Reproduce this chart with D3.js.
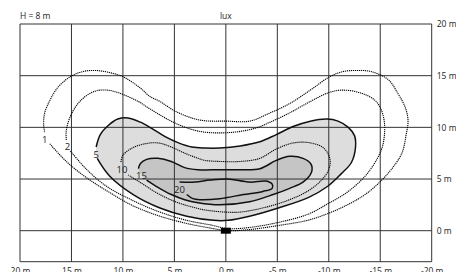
<!DOCTYPE html>
<html>
<head>
<meta charset="utf-8">
<script src="https://cdn.jsdelivr.net/npm/d3@7"></script>
<style>
    body { margin: 0; background: #fff; }
    text { font-family: "Open Sans", sans-serif; fill: #222; }
</style>
</head>
<body>
<div id="isolux"></div>
<script>
var xTicks = [20, 15, 10, 5, 0, -5, -10, -15, -20];
var yTicks = [20, 15, 10, 5, 0];
var levels = [1, 2, 5, 10, 15, 20];

// isolux lines in metres, each starts and ends at the gap for its label
var iso1 = [[17.1,8.4],[15.5,6.7],[13.5,5.1],[11.3,3.7],[9.0,2.4],[6.4,1.4],[3.8,0.7],[1.2,0.2],[-0.1,0.0],
    [-2.2,0.1],[-5.1,0.5],[-8.3,1.1],[-11.6,2.4],[-13.8,3.7],[-15.8,5.6],[-17.1,7.5],[-17.5,9.2],[-17.7,10.7],
    [-17.4,12.0],[-16.7,13.3],[-15.8,14.6],[-14.1,15.4],[-12.7,15.5],[-11.4,15.4],[-10.1,14.9],[-8.2,13.6],
    [-6.2,12.3],[-4.3,11.4],[-2.3,10.6],[-0.1,10.6],[2.5,10.7],[4.8,11.5],[6.4,12.5],[7.4,13.0],[8.3,13.8],
    [10.0,14.9],[11.3,15.3],[12.6,15.5],[13.9,15.4],[15.1,14.9],[16.3,13.9],[17.1,12.6],[17.6,11.4],[17.7,10.2],[17.6,9.5]];
var iso2 = [[15.1,7.7],[13.5,5.9],[11.6,4.3],[9.0,2.9],[6.4,1.8],[3.8,1.0],[1.2,0.5],[-0.1,0.2],[-2.2,0.3],
    [-5.1,0.8],[-8.0,1.6],[-9.9,2.6],[-11.9,3.8],[-13.8,5.6],[-15.1,7.8],[-15.4,9.2],[-15.4,10.5],[-15.1,11.7],
    [-14.5,12.6],[-13.2,13.3],[-11.4,13.6],[-10.1,13.4],[-8.2,12.5],[-6.2,11.4],[-4.3,10.5],[-2.8,9.9],[-0.4,9.5],
    [2.5,9.6],[4.9,10.4],[7.4,11.8],[8.5,12.5],[10.3,13.3],[11.5,13.6],[12.7,13.5],[14.0,12.7],[15.0,11.3],[15.5,9.7],[15.5,8.7]];
var iso5 = [[12.5,7.0],[11.3,5.3],[9.0,3.5],[6.4,2.2],[3.8,1.4],[1.2,1.0],[-0.2,1.0],[-2.3,1.4],[-5.1,2.2],
    [-8.0,3.2],[-9.9,4.3],[-11.2,5.5],[-12.2,6.6],[-12.6,8.1],[-12.5,9.2],[-11.9,10.0],[-10.9,10.6],[-9.8,10.8],
    [-8.2,10.6],[-6.6,10.1],[-4.9,9.3],[-3.3,8.6],[-1.4,8.2],[0.6,8.0],[2.0,8.0],[3.3,8.1],[4.6,8.5],[5.9,9.1],
    [7.2,9.9],[8.3,10.5],[9.5,10.9],[10.5,10.8],[11.4,10.2],[12.2,9.3],[12.6,8.1]];
var iso10 = [[9.5,5.4],[8.2,4.6],[6.6,3.6],[4.9,2.8],[3.3,2.3],[2.0,2.0],[0.0,1.8],[-1.4,1.8],[-4.0,2.3],
    [-6.2,3.0],[-7.9,3.8],[-9.1,4.7],[-10.0,5.9],[-10.1,7.0],[-9.5,8.0],[-8.2,8.5],[-6.6,8.5],[-4.9,7.9],
    [-3.3,7.0],[-1.4,6.7],[0.6,6.7],[2.0,6.8],[2.7,7.0],[4.0,7.5],[5.3,8.1],[6.6,8.5],[7.9,8.4],[9.1,8.0],[10.0,7.3],[10.2,6.6]];
var iso15 = [[7.7,4.9],[6.6,4.2],[5.3,3.5],[4.0,3.0],[2.7,2.7],[0.6,2.5],[-2.3,2.8],[-4.6,3.5],[-6.2,4.1],
    [-7.5,4.7],[-8.3,5.6],[-8.3,6.4],[-7.5,7.0],[-6.2,7.2],[-4.9,6.8],[-3.3,6.0],[-1.4,5.9],[0.6,5.9],
    [2.7,5.9],[4.0,6.1],[5.3,6.7],[6.6,7.0],[7.7,6.9],[8.3,6.5],[8.5,6.0]];
var iso20 = [[3.8,3.5],[3.2,3.1],[2.5,3.0],[0.6,3.1],[-1.7,3.5],[-3.6,3.8],[-4.5,4.1],[-4.5,4.5],[-3.9,4.8],
    [-2.3,4.7],[-0.2,5.0],[1.5,4.9],[3.0,4.7],[4.5,4.7]];
var labelAt = [[17.6,8.8],[15.4,8.1],[12.6,7.4],[10.1,5.9],[8.2,5.3],[4.5,4.0]];
var luminaire = [0, 0];

var isolines = [iso1, iso2, iso5, iso10, iso15, iso20];
var dotted = [true, true, false, true, false, false];
var fills = {5: '#dddddd', 15: '#c5c5c5'};

var svg = d3.select('#isolux').append('svg')
    .attr('width', 456)
    .attr('height', 272);

var x = d3.scaleLinear().domain([20, -20]).range([20, 431.7]);
var y = d3.scaleLinear().domain([20, -3]).range([24, 261.7]);

var line = d3.line()
    .x(function(d) { return x(d[0]); })
    .y(function(d) { return y(d[1]); })
    .curve(d3.curveCatmullRom);
var area = d3.line()
    .x(function(d) { return x(d[0]); })
    .y(function(d) { return y(d[1]); })
    .curve(d3.curveCatmullRomClosed);

// Shaded regions first so the grid sits on top
levels.forEach(function(lv, i) {
    if (fills[lv]) {
        svg.append('path')
            .attr('d', area(isolines[i]))
            .attr('fill', fills[lv]);
    }
});

// Grid
var grid = svg.append('g').attr('stroke', '#333').attr('stroke-width', 1);
grid.selectAll('line.v')
    .data(xTicks)
    .enter()
    .append('line')
    .attr('x1', function(d) { return x(d); })
    .attr('x2', function(d) { return x(d); })
    .attr('y1', y(20))
    .attr('y2', y(-3));
grid.selectAll('line.h')
    .data(yTicks.concat([-3]))
    .enter()
    .append('line')
    .attr('x1', x(20))
    .attr('x2', x(-20))
    .attr('y1', function(d) { return y(d); })
    .attr('y2', function(d) { return y(d); });

// Isolux lines
svg.selectAll('path.iso')
    .data(isolines)
    .enter()
    .append('path')
    .classed('iso', true)
    .attr('d', line)
    .attr('fill', 'none')
    .attr('stroke', function(d, i) { return dotted[i] ? '#000' : '#111'; })
    .attr('stroke-width', function(d, i) { return dotted[i] ? 1.1 : 1.5; })
    .attr('stroke-dasharray', function(d, i) { return dotted[i] ? '1.2,0.8' : null; });

svg.selectAll('text.lv')
    .data(levels)
    .enter()
    .append('text')
    .classed('lv', true)
    .attr('x', function(d, i) { return x(labelAt[i][0]); })
    .attr('y', function(d, i) { return y(labelAt[i][1]); })
    .attr('text-anchor', 'middle')
    .attr('dy', '0.35em')
    .style('font-size', '9.5px')
    .text(function(d) { return d; });

svg.append('rect')
    .attr('x', x(luminaire[0]) - 5)
    .attr('y', y(luminaire[1]) - 3)
    .attr('width', 10)
    .attr('height', 6)
    .attr('fill', '#000');

// Axis labels
var xAxis = d3.axisBottom(x).tickValues(xTicks).tickSize(0).tickPadding(6)
    .tickFormat(function(d) { return d + ' m'; });
var gx = svg.append('g')
    .attr('transform', 'translate(0,' + y(-3) + ')')
    .call(xAxis);
var yAxis = d3.axisRight(y).tickValues(yTicks).tickSize(0).tickPadding(5)
    .tickFormat(function(d) { return d + ' m'; });
var gy = svg.append('g')
    .attr('transform', 'translate(' + x(-20) + ',0)')
    .call(yAxis);
[gx, gy].forEach(function(g) {
    g.select('.domain').remove();
    g.selectAll('text')
        .style('font-family', '"Open Sans", sans-serif')
        .style('font-size', '8.5px')
        .attr('fill', '#222');
});

svg.append('text')
    .attr('x', 20)
    .attr('y', 18.5)
    .style('font-size', '8.5px')
    .text('H = 8 m');
svg.append('text')
    .attr('x', x(0))
    .attr('y', 18.5)
    .attr('text-anchor', 'middle')
    .style('font-size', '8.5px')
    .text('lux');
</script>
</body>
</html>
